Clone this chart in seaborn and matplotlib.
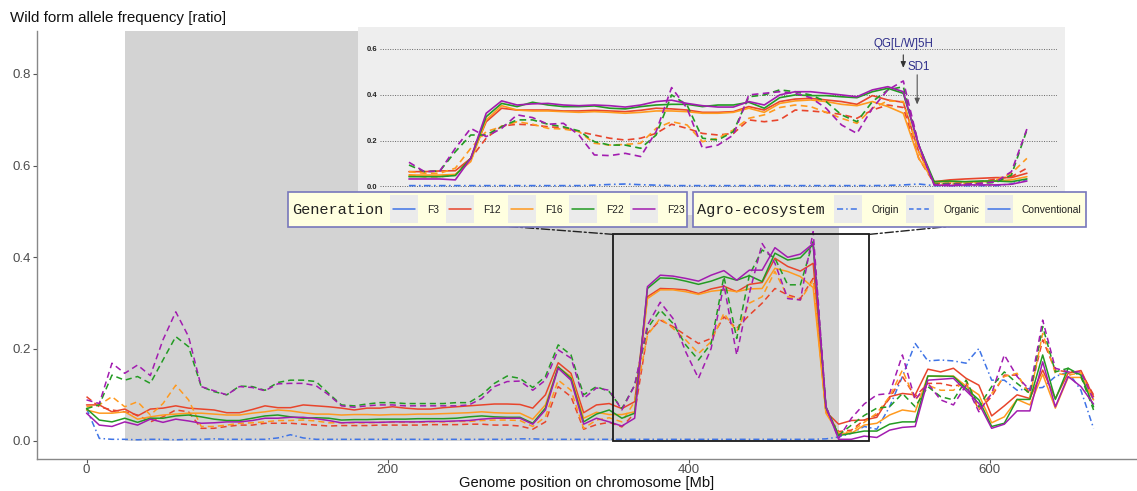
import numpy as np
import pandas as pd
import matplotlib
matplotlib.use("Agg")
import matplotlib.pyplot as plt
from matplotlib.patches import Rectangle, ConnectionPatch
from matplotlib.lines import Line2D
import seaborn as sns

# ---------------- data ----------------
pos_mb = [0, 8.5, 16.9, 25.4, 33.9, 42.4, 50.8, 59.3, 67.8, 76.2, 84.7, 93.2, 101.6, 110.1,
          118.6, 127.1, 135.5, 144.0, 152.5, 160.9, 169.4, 177.9, 186.3, 194.8, 203.3, 211.8,
          220.2, 228.7, 237.2, 245.6, 254.1, 262.6, 271.0, 279.5, 288.0, 296.5, 304.9, 313.4,
          321.9, 330.3, 338.8, 347.3, 355.7, 364.2, 372.7, 381.2, 389.6, 398.1, 406.6, 415.0,
          423.5, 432.0, 440.4, 448.9, 457.4, 465.9, 474.3, 482.8, 491.3, 499.7, 508.2, 516.7,
          525.1, 533.6, 542.1, 550.6, 559.0, 567.5, 576.0, 584.4, 592.9, 601.4, 609.8, 618.3,
          626.8, 635.3, 643.7, 652.2, 660.7, 669.1]

origin_f3 = [0.07, 0.005, 0.003, 0.003, 0.002, 0.003, 0.003, 0.002, 0.003, 0.003, 0.004, 0.003,
             0.003, 0.003, 0.003, 0.006, 0.013, 0.006, 0.003, 0.003, 0.003, 0.003, 0.003, 0.003,
             0.003, 0.003, 0.003, 0.003, 0.003, 0.003, 0.003, 0.003, 0.003, 0.003, 0.004, 0.004,
             0.003, 0.003, 0.003, 0.003, 0.003, 0.003, 0.003, 0.003, 0.003, 0.003, 0.003, 0.003,
             0.003, 0.003, 0.003, 0.003, 0.003, 0.003, 0.003, 0.003, 0.003, 0.003, 0.004, 0.008,
             0.016, 0.031, 0.025, 0.074, 0.14, 0.212, 0.174, 0.176, 0.174, 0.169, 0.201, 0.132,
             0.132, 0.11, 0.114, 0.116, 0.14, 0.15, 0.11, 0.027]

conv_f12 = [0.078, 0.078, 0.063, 0.069, 0.054, 0.069, 0.071, 0.076, 0.071, 0.069, 0.067, 0.061,
            0.061, 0.068, 0.076, 0.072, 0.072, 0.078, 0.076, 0.074, 0.071, 0.067, 0.071, 0.071,
            0.074, 0.071, 0.069, 0.069, 0.072, 0.074, 0.076, 0.078, 0.08, 0.08, 0.079, 0.071,
            0.1, 0.17, 0.147, 0.061, 0.078, 0.081, 0.07, 0.085, 0.314, 0.332, 0.331, 0.329,
            0.321, 0.331, 0.337, 0.325, 0.341, 0.345, 0.398, 0.38, 0.37, 0.387, 0.063, 0.036,
            0.044, 0.045, 0.051, 0.096, 0.103, 0.1, 0.156, 0.15, 0.158, 0.136, 0.121, 0.054,
            0.076, 0.1, 0.092, 0.154, 0.092, 0.147, 0.153, 0.096]

conv_f16 = [0.067, 0.06, 0.06, 0.063, 0.047, 0.052, 0.056, 0.058, 0.06, 0.06, 0.058, 0.056,
            0.056, 0.06, 0.063, 0.067, 0.065, 0.061, 0.058, 0.058, 0.056, 0.057, 0.057, 0.056,
            0.057, 0.057, 0.058, 0.058, 0.059, 0.06, 0.061, 0.063, 0.061, 0.06, 0.06, 0.047,
            0.078, 0.16, 0.14, 0.049, 0.062, 0.057, 0.057, 0.063, 0.31, 0.329, 0.329, 0.325,
            0.319, 0.326, 0.329, 0.325, 0.331, 0.332, 0.376, 0.369, 0.358, 0.334, 0.06, 0.016,
            0.016, 0.034, 0.038, 0.056, 0.067, 0.063, 0.141, 0.14, 0.141, 0.119, 0.1, 0.039,
            0.052, 0.09, 0.078, 0.145, 0.071, 0.138, 0.138, 0.089]

conv_f22 = [0.07, 0.045, 0.041, 0.049, 0.04, 0.049, 0.049, 0.054, 0.056, 0.052, 0.047, 0.044,
            0.044, 0.049, 0.054, 0.056, 0.052, 0.049, 0.05, 0.049, 0.045, 0.046, 0.046, 0.047,
            0.047, 0.047, 0.048, 0.048, 0.048, 0.049, 0.052, 0.054, 0.052, 0.051, 0.051, 0.038,
            0.071, 0.161, 0.136, 0.041, 0.058, 0.067, 0.049, 0.06, 0.332, 0.355, 0.354, 0.348,
            0.341, 0.348, 0.358, 0.35, 0.36, 0.347, 0.409, 0.394, 0.399, 0.428, 0.072, 0.011,
            0.016, 0.021, 0.021, 0.036, 0.041, 0.041, 0.141, 0.141, 0.14, 0.114, 0.089, 0.031,
            0.038, 0.09, 0.09, 0.187, 0.09, 0.158, 0.143, 0.074]

conv_f23 = [0.06, 0.034, 0.031, 0.041, 0.034, 0.047, 0.04, 0.047, 0.043, 0.038, 0.039, 0.041,
            0.041, 0.044, 0.049, 0.049, 0.051, 0.051, 0.048, 0.044, 0.039, 0.04, 0.04, 0.04,
            0.041, 0.041, 0.041, 0.042, 0.042, 0.043, 0.044, 0.047, 0.049, 0.049, 0.049, 0.036,
            0.067, 0.158, 0.132, 0.036, 0.049, 0.041, 0.032, 0.049, 0.336, 0.361, 0.359, 0.354,
            0.348, 0.361, 0.371, 0.35, 0.372, 0.372, 0.421, 0.4, 0.407, 0.43, 0.074, 0.003,
            0.003, 0.01, 0.007, 0.023, 0.029, 0.031, 0.132, 0.134, 0.136, 0.109, 0.081, 0.027,
            0.036, 0.065, 0.065, 0.172, 0.074, 0.14, 0.118, 0.08]

org_f12 = [0.096, 0.074, 0.067, 0.063, 0.056, 0.041, 0.052, 0.067, 0.063, 0.027, 0.027, 0.031,
           0.034, 0.034, 0.038, 0.038, 0.038, 0.036, 0.034, 0.032, 0.033, 0.033, 0.033, 0.034,
           0.034, 0.034, 0.034, 0.035, 0.035, 0.035, 0.036, 0.036, 0.034, 0.034, 0.032, 0.025,
           0.041, 0.118, 0.096, 0.025, 0.035, 0.04, 0.03, 0.06, 0.234, 0.263, 0.249, 0.23,
           0.212, 0.223, 0.27, 0.245, 0.274, 0.3, 0.332, 0.318, 0.31, 0.354, 0.063, 0.02,
           0.023, 0.045, 0.056, 0.092, 0.14, 0.096, 0.125, 0.125, 0.119, 0.125, 0.067, 0.096,
           0.143, 0.143, 0.103, 0.22, 0.154, 0.15, 0.15, 0.1]

org_f16 = [0.074, 0.078, 0.096, 0.074, 0.085, 0.056, 0.081, 0.121, 0.089, 0.031, 0.031, 0.034,
           0.038, 0.039, 0.041, 0.044, 0.044, 0.045, 0.043, 0.039, 0.039, 0.039, 0.039, 0.04,
           0.04, 0.04, 0.04, 0.041, 0.041, 0.042, 0.042, 0.044, 0.045, 0.045, 0.044, 0.031,
           0.052, 0.132, 0.11, 0.027, 0.045, 0.05, 0.041, 0.085, 0.23, 0.267, 0.245, 0.22,
           0.19, 0.216, 0.278, 0.238, 0.3, 0.314, 0.369, 0.314, 0.307, 0.35, 0.063, 0.016,
           0.02, 0.04, 0.06, 0.096, 0.154, 0.089, 0.121, 0.11, 0.11, 0.132, 0.071, 0.103,
           0.14, 0.147, 0.096, 0.234, 0.147, 0.143, 0.148, 0.089]

org_f22 = [0.07, 0.078, 0.143, 0.132, 0.14, 0.125, 0.176, 0.227, 0.205, 0.118, 0.107, 0.1,
           0.119, 0.118, 0.11, 0.127, 0.132, 0.132, 0.129, 0.103, 0.078, 0.076, 0.08, 0.083,
           0.083, 0.081, 0.081, 0.081, 0.081, 0.083, 0.083, 0.1, 0.125, 0.141, 0.136, 0.116,
           0.14, 0.209, 0.187, 0.1, 0.118, 0.107, 0.07, 0.121, 0.245, 0.285, 0.256, 0.209,
           0.176, 0.212, 0.358, 0.223, 0.361, 0.416, 0.398, 0.34, 0.34, 0.434, 0.074, 0.012,
           0.034, 0.055, 0.071, 0.074, 0.103, 0.074, 0.118, 0.096, 0.089, 0.132, 0.074, 0.118,
           0.15, 0.125, 0.103, 0.249, 0.15, 0.158, 0.14, 0.067]

org_f23 = [0.089, 0.081, 0.169, 0.147, 0.165, 0.142, 0.22, 0.281, 0.227, 0.118, 0.109, 0.1,
           0.118, 0.116, 0.109, 0.124, 0.125, 0.125, 0.12, 0.1, 0.076, 0.073, 0.076, 0.078,
           0.078, 0.076, 0.076, 0.076, 0.076, 0.076, 0.078, 0.092, 0.118, 0.129, 0.13, 0.11,
           0.132, 0.198, 0.18, 0.092, 0.115, 0.11, 0.067, 0.121, 0.252, 0.302, 0.267, 0.194,
           0.136, 0.201, 0.34, 0.187, 0.321, 0.43, 0.387, 0.31, 0.307, 0.456, 0.074, 0.005,
           0.049, 0.08, 0.1, 0.103, 0.187, 0.089, 0.125, 0.089, 0.078, 0.121, 0.063, 0.103,
           0.187, 0.14, 0.11, 0.263, 0.158, 0.15, 0.15, 0.089]

# inset (finer resolution, 354-514 Mb)
ins_pos = [354, 358, 362, 366, 370, 374, 378, 382, 386, 390, 394, 398, 402, 406, 410, 414,
           418, 422, 426, 430, 434, 438, 442, 446, 450, 454, 458, 462, 466, 470, 474, 478,
           482, 486, 490, 494, 498, 502, 506, 510, 514]

ins_origin_f3 = [0.003, 0.003, 0.003, 0.003, 0.003, 0.003, 0.003, 0.003, 0.003, 0.003, 0.003,
                 0.003, 0.005, 0.008, 0.01, 0.007, 0.005, 0.003, 0.003, 0.003, 0.003, 0.003,
                 0.003, 0.003, 0.003, 0.003, 0.003, 0.003, 0.003, 0.003, 0.003, 0.004, 0.006,
                 0.01, 0.003, 0.003, 0.003, 0.003, 0.003, 0.01, 0.03]
ins_conv_f12 = [0.064, 0.064, 0.067, 0.068, 0.122, 0.282, 0.341, 0.333, 0.333, 0.333, 0.329,
                0.329, 0.332, 0.329, 0.326, 0.332, 0.341, 0.338, 0.333, 0.323, 0.323, 0.326,
                0.348, 0.333, 0.37, 0.381, 0.384, 0.377, 0.37, 0.358, 0.396, 0.377, 0.367,
                0.151, 0.02, 0.028, 0.032, 0.035, 0.038, 0.038, 0.057]
ins_conv_f16 = [0.049, 0.049, 0.049, 0.052, 0.108, 0.29, 0.352, 0.333, 0.329, 0.329, 0.326,
                0.323, 0.326, 0.323, 0.319, 0.323, 0.329, 0.329, 0.326, 0.319, 0.319, 0.323,
                0.341, 0.323, 0.362, 0.373, 0.377, 0.37, 0.358, 0.352, 0.37, 0.348, 0.319,
                0.122, 0.02, 0.02, 0.02, 0.02, 0.023, 0.028, 0.042]
ins_conv_f22 = [0.042, 0.042, 0.042, 0.047, 0.122, 0.304, 0.362, 0.348, 0.367, 0.355, 0.348,
                0.348, 0.351, 0.341, 0.338, 0.348, 0.355, 0.358, 0.358, 0.348, 0.355, 0.355,
                0.367, 0.341, 0.387, 0.399, 0.396, 0.396, 0.391, 0.387, 0.413, 0.428, 0.406,
                0.18, 0.02, 0.023, 0.02, 0.023, 0.023, 0.02, 0.032]
ins_conv_f23 = [0.032, 0.032, 0.032, 0.028, 0.122, 0.319, 0.373, 0.355, 0.36, 0.362, 0.355,
                0.352, 0.355, 0.352, 0.346, 0.355, 0.37, 0.376, 0.362, 0.352, 0.346, 0.346,
                0.37, 0.355, 0.399, 0.413, 0.413, 0.406, 0.399, 0.391, 0.421, 0.435, 0.413,
                0.18, 0.006, 0.003, 0.006, 0.006, 0.006, 0.009, 0.023]
ins_org_f12 = [0.049, 0.042, 0.042, 0.049, 0.122, 0.21, 0.263, 0.271, 0.268, 0.26, 0.256,
               0.239, 0.224, 0.21, 0.202, 0.21, 0.231, 0.271, 0.253, 0.231, 0.224, 0.231,
               0.29, 0.282, 0.29, 0.333, 0.329, 0.323, 0.314, 0.297, 0.333, 0.355, 0.344,
               0.122, 0.013, 0.013, 0.017, 0.02, 0.032, 0.042, 0.079]
ins_org_f16 = [0.064, 0.057, 0.057, 0.079, 0.166, 0.239, 0.26, 0.282, 0.271, 0.253, 0.25,
               0.239, 0.188, 0.18, 0.183, 0.188, 0.253, 0.282, 0.268, 0.195, 0.21, 0.246,
               0.297, 0.312, 0.344, 0.355, 0.348, 0.323, 0.297, 0.275, 0.341, 0.373, 0.37,
               0.151, 0.009, 0.009, 0.013, 0.017, 0.028, 0.057, 0.122]
ins_org_f22 = [0.093, 0.064, 0.067, 0.151, 0.224, 0.224, 0.26, 0.29, 0.29, 0.271, 0.26,
               0.242, 0.195, 0.18, 0.18, 0.166, 0.224, 0.399, 0.355, 0.21, 0.202, 0.239,
               0.391, 0.399, 0.421, 0.413, 0.399, 0.37, 0.312, 0.282, 0.37, 0.421, 0.435,
               0.18, 0.009, 0.013, 0.009, 0.013, 0.017, 0.049, 0.246]
ins_org_f23 = [0.105, 0.064, 0.067, 0.166, 0.253, 0.217, 0.253, 0.312, 0.3, 0.271, 0.275,
               0.224, 0.137, 0.134, 0.144, 0.13, 0.239, 0.431, 0.341, 0.166, 0.18, 0.224,
               0.399, 0.406, 0.413, 0.406, 0.387, 0.341, 0.268, 0.231, 0.341, 0.421, 0.46,
               0.18, 0.006, 0.009, 0.009, 0.013, 0.02, 0.064, 0.25]

generations = ["F3", "F12", "F16", "F22", "F23"]
ecosystems = ["Origin", "Organic", "Conventional"]
gen_colors = ["#3F74E6", "#E8452C", "#FF9A1F", "#239B23", "#A21CB0"]

annot_labels = ["QG[L/W]5H", "SD1"]
annot_pos = [482.0, 485.6]

# ---------------- frames ----------------
def build(pos, table):
    rows = []
    for (gen, eco), vals in table:
        for p, v in zip(pos, vals):
            rows.append((p, v, gen, eco))
    return pd.DataFrame(rows, columns=["pos", "freq", "Generation", "Agro"])

df_main = build(pos_mb, [
    (("F3", "Origin"), origin_f3),
    (("F12", "Organic"), org_f12), (("F16", "Organic"), org_f16),
    (("F22", "Organic"), org_f22), (("F23", "Organic"), org_f23),
    (("F12", "Conventional"), conv_f12), (("F16", "Conventional"), conv_f16),
    (("F22", "Conventional"), conv_f22), (("F23", "Conventional"), conv_f23),
])
df_ins = build(ins_pos, [
    (("F3", "Origin"), ins_origin_f3),
    (("F12", "Organic"), ins_org_f12), (("F16", "Organic"), ins_org_f16),
    (("F22", "Organic"), ins_org_f22), (("F23", "Organic"), ins_org_f23),
    (("F12", "Conventional"), ins_conv_f12), (("F16", "Conventional"), ins_conv_f16),
    (("F22", "Conventional"), ins_conv_f22), (("F23", "Conventional"), ins_conv_f23),
])

palette = dict(zip(generations, gen_colors))
dash_map = {"Origin": (4, 2, 1, 2), "Organic": (4, 2.6), "Conventional": ""}

# ---------------- figure ----------------
sns.set_style("white")
plt.rcParams["font.family"] = ["Liberation Sans", "DejaVu Sans"]

W, H = 1137, 491
fig = plt.figure(figsize=(W / 100, H / 100), dpi=100)
fig.patch.set_facecolor("white")

def fx(x):
    return x / W

def fy(y):
    return 1 - y / H

ax = fig.add_axes([fx(37), fy(459.3), (1136 - 37) / W, (459.3 - 30.5) / H])
ax.set_facecolor("white")
ax.set_xlim(-32.9, 697.3)
ax.set_ylim(-0.0406, 0.8947)

ax.add_patch(Rectangle((25.3, 0), 474.7, 2.0, facecolor="#D3D3D3", edgecolor="none", zorder=0.5))

sns.lineplot(data=df_main, x="pos", y="freq", hue="Generation", style="Agro",
             hue_order=generations, style_order=ecosystems, palette=palette,
             dashes=dash_map, estimator=None, errorbar=None, sort=False,
             legend=False, lw=1.1, ax=ax)

ax.add_patch(Rectangle((350, 0), 170, 0.45, fill=False, edgecolor="#1A1A1A", lw=1.3, zorder=4))

ax.set_xticks([0, 200, 400, 600])
ax.set_yticks([0.0, 0.2, 0.4, 0.6, 0.8])
ax.set_yticklabels(["0.0", "0.2", "0.4", "0.6", "0.8"])
ax.tick_params(axis="both", colors="#555555", labelcolor="#4D4D4D", labelsize=9.5,
               length=3, width=0.8, direction="out", pad=1.5)
ax.tick_params(axis="x", pad=0.5)
ax.tick_params(axis="both", left=True, bottom=True)
for s in ["top", "right"]:
    ax.spines[s].set_visible(False)
for s in ["left", "bottom"]:
    ax.spines[s].set_color("#888888")
    ax.spines[s].set_linewidth(1.0)
ax.set_xlabel("")
ax.set_ylabel("")

fig.text(fx(587), fy(482.5), "Genome position on chromosome [Mb]", ha="center", va="center",
         fontsize=10.6, color="#111111")
fig.text(fx(10), fy(18), "Wild form allele frequency [ratio]", ha="left", va="center",
         fontsize=10.9, color="#111111")

# connectors from the box to the inset
for xa, xb in [(350, 358), (520, 1065)]:
    cp = ConnectionPatch(xyA=(xa, 0.45), coordsA=ax.transData,
                         xyB=(fx(xb), fy(215)), coordsB="figure fraction",
                         color="#222222", lw=1.0, linestyle=(0, (6, 2, 1.5, 2)), zorder=0.8)
    fig.add_artist(cp)

# inset background
fig.add_artist(Rectangle((fx(358), fy(215)), 707 / W, 188 / H, transform=fig.transFigure,
                         facecolor="#EEEEEE", edgecolor="none", zorder=0.9))

axi = fig.add_axes([fx(380), fy(215), 677 / W, 188 / H])
axi.set_zorder(1)
axi.patch.set_alpha(0)
axi.set_xlim(346.5, 521.8)
axi.set_ylim(-0.1253, 0.6956)
axi.set_yticks([0.0, 0.2, 0.4, 0.6])
axi.set_yticklabels(["0.0", "0.2", "0.4", "0.6"])
axi.set_xticks([])
axi.yaxis.grid(True, linestyle=(0, (1, 1.5)), color="#666666", lw=0.7)
axi.set_axisbelow(True)
axi.tick_params(axis="y", length=0, pad=2, labelsize=5.5, labelcolor="#222222")
for lab in axi.get_yticklabels():
    lab.set_fontweight("bold")
for s in axi.spines.values():
    s.set_visible(False)

sns.lineplot(data=df_ins, x="pos", y="freq", hue="Generation", style="Agro",
             hue_order=generations, style_order=ecosystems, palette=palette,
             dashes=dash_map, estimator=None, errorbar=None, sort=False,
             legend=False, lw=1.2, ax=axi)
axi.set_xlabel("")
axi.set_ylabel("")

acol = "#2E2E8A"
axi.text(annot_pos[0], 0.621, annot_labels[0], ha="center", va="center", fontsize=8.3, color=acol)
axi.text(annot_pos[1] + 0.5, 0.521, annot_labels[1], ha="center", va="center", fontsize=8.3, color=acol)
axi.annotate("", xy=(annot_pos[0], 0.505), xytext=(annot_pos[0], 0.586),
             arrowprops=dict(arrowstyle="-|>,head_length=0.35,head_width=0.15", color="#333333", lw=0.8))
axi.annotate("", xy=(annot_pos[1], 0.345), xytext=(annot_pos[1], 0.499),
             arrowprops=dict(arrowstyle="-|>,head_length=0.35,head_width=0.15", color="#555555", lw=0.8))

# ---------------- legends (manual, ggplot style) ----------------
def legend_box(x0, x1, title, keys):
    fig.add_artist(Rectangle((fx(x0), fy(227)), (x1 - x0) / W, 35 / H, transform=fig.transFigure,
                             facecolor="#FFFFE0", edgecolor="#7777BB", lw=1.2, zorder=5))
    fig.text(fx(x0 + 4), fy(210), title, ha="left", va="center", fontsize=11,
             family=["Liberation Mono", "DejaVu Sans Mono"], color="#222222", zorder=6)
    for kx, color, ls, label in keys:
        fig.add_artist(Rectangle((fx(kx), fy(223)), 28 / W, 28 / H, transform=fig.transFigure,
                                 facecolor="#EBEBEB", edgecolor="none", zorder=6))
        fig.add_artist(Line2D([fx(kx + 3), fx(kx + 25)], [fy(209), fy(209)],
                              transform=fig.transFigure, color=color, lw=1.1, linestyle=ls, zorder=7))
        fig.text(fx(kx + 37), fy(210), label, ha="left", va="center", fontsize=7.4,
                 color="#222222", zorder=7)

gen_keys = [(390, gen_colors[0], "-", "F3"), (446, gen_colors[1], "-", "F12"),
            (508, gen_colors[2], "-", "F16"), (569, gen_colors[3], "-", "F22"),
            (630, gen_colors[4], "-", "F23")]
legend_box(288, 687, "Generation", gen_keys)

eco_keys = [(834, gen_colors[0], (0, (4, 2, 1, 2)), "Origin"),
            (906, gen_colors[0], (0, (3, 2)), "Organic"),
            (985, gen_colors[0], "-", "Conventional")]
legend_box(693, 1086, "Agro-ecosystem", eco_keys)

fig.savefig("out.png", dpi=100, facecolor="white")
